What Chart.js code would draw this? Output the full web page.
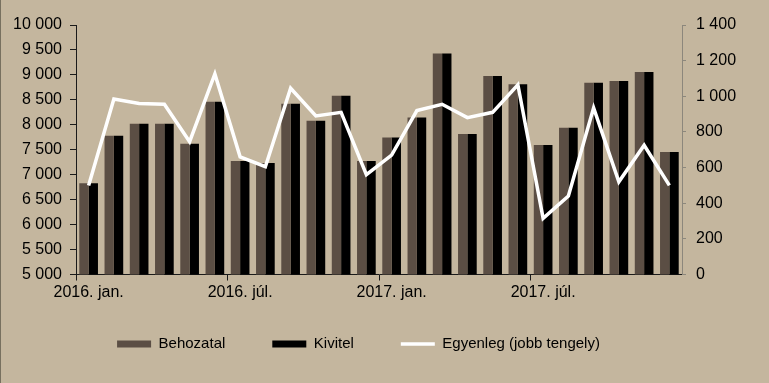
<!DOCTYPE html>
<html>
<head>
<meta charset="utf-8">
<script src="https://cdn.jsdelivr.net/npm/chart.js@4/dist/chart.umd.min.js"></script>
<style>
  html, body { margin: 0; padding: 0; }
  #wrap {
    width: 769px; height: 383px; position: relative;
    background: linear-gradient(90deg, #77705f 0 1px, #c4b69e 1px);
  }
</style>
</head>
<body>
<div id="wrap"><canvas id="chart"></canvas></div>
<script>
// -------- Data --------
const monthNames = ["jan.", "febr.", "márc.", "ápr.", "máj.", "jún.", "júl.", "aug.", "szept.", "okt.", "nov.", "dec."];
const years = ["2016.", "2017."];
const labels = years.flatMap(y => monthNames.map(m => y + " " + m));

const behozatal = [6830, 7780, 8020, 8020, 7620, 8460, 7275, 7235, 8420, 8080, 8580, 7275,
                   7745, 8145, 9430, 7815, 8980, 8815, 7595, 7940, 8845, 8880, 9060, 7455];
const kivitel   = [6830, 7780, 8020, 8020, 7620, 8460, 7275, 7235, 8420, 8080, 8580, 7275,
                   7745, 8145, 9430, 7815, 8980, 8815, 7595, 7940, 8845, 8880, 9060, 7455];
const egyenleg  = [500, 985, 960, 955, 745, 1125, 660, 605, 1045, 890, 910, 560,
                   670, 920, 955, 880, 910, 1065, 315, 440, 935, 520, 725, 500];

const leftTicks = { min: 5000, max: 10000, step: 500 };
const rightTicks = { min: 0, max: 1400, step: 200 };

// -------- Helpers --------
const FONT = "'Liberation Sans', Arial, sans-serif";
const fmt = v => String(v).replace(/\B(?=(\d{3})+(?!\d))/g, " ");

// legend sits a bit left of and above the default centred bottom slot
const legendNudge = {
    id: "legendNudge",
    afterLayout(chart) {
        const lg = chart.legend;
        if (!lg) return;
        lg.left -= 26; lg.right -= 26;
        lg.top -= 15; lg.bottom -= 15;
    }
};

const ctx = document.getElementById("chart");
new Chart(ctx, {
    data: {
        labels: labels,
        datasets: [
            { type: "bar", label: "Behozatal", data: behozatal, backgroundColor: "#5b4e44",
              borderWidth: 0, yAxisID: "y", order: 1, pointStyle: "rect",
              categoryPercentage: 0.74, barPercentage: 1 },
            { type: "bar", label: "Kivitel", data: kivitel, backgroundColor: "#000000",
              borderWidth: 0, yAxisID: "y", order: 1, pointStyle: "rect",
              categoryPercentage: 0.74, barPercentage: 1 },
            { type: "line", label: "Egyenleg (jobb tengely)", data: egyenleg, borderColor: "#ffffff",
              backgroundColor: "#ffffff", borderWidth: 3.5, pointRadius: 0, tension: 0,
              yAxisID: "y1", order: 0, pointStyle: "line" }
        ]
    },
    options: {
        responsive: true,
        maintainAspectRatio: false,
        animation: false,
        layout: { padding: { top: 25, right: 0, bottom: 6.5, left: 0 } },
        plugins: {
            tooltip: { enabled: false },
            legend: {
                position: "bottom",
                labels: {
                    usePointStyle: true,
                    pointStyleWidth: 34,
                    boxHeight: 7,
                    padding: 47,
                    color: "#000",
                    font: { family: FONT, size: 15 },
                    sort: (a, b) => a.datasetIndex - b.datasetIndex
                }
            }
        },
        scales: {
            x: {
                offset: true,
                afterFit: s => { s.height = 30; },
                grid: {
                    offset: true, drawOnChartArea: false, tickLength: 6,
                    tickColor: c => (c.index % 6 === 0 ? "#1a1a1a" : "rgba(0,0,0,0)")
                },
                border: { color: "#1a1a1a", width: 1 },
                ticks: {
                    autoSkip: false, maxRotation: 0, padding: 2, color: "#000",
                    font: { family: FONT, size: 16 },
                    callback: function (v, i) { return i % 6 === 0 ? this.getLabelForValue(v) : ""; }
                }
            },
            y: {
                position: "left",
                min: leftTicks.min, max: leftTicks.max,
                afterFit: s => { s.width = 76; },
                grid: { drawOnChartArea: false, tickLength: 6, tickColor: "#1a1a1a" },
                border: { color: "#1a1a1a", width: 1 },
                ticks: { stepSize: leftTicks.step, padding: 8, color: "#000",
                         font: { family: FONT, size: 16 }, callback: v => fmt(v) }
            },
            y1: {
                position: "right",
                min: rightTicks.min, max: rightTicks.max,
                afterFit: s => { s.width = 87; },
                grid: { drawOnChartArea: false, tickLength: 4, tickColor: "#8c877c" },
                border: { color: "#8c877c", width: 1 },
                ticks: { stepSize: rightTicks.step, padding: 10, color: "#000",
                         font: { family: FONT, size: 16 }, callback: v => fmt(v) }
            }
        }
    },
    plugins: [legendNudge]
});
</script>
</body>
</html>
